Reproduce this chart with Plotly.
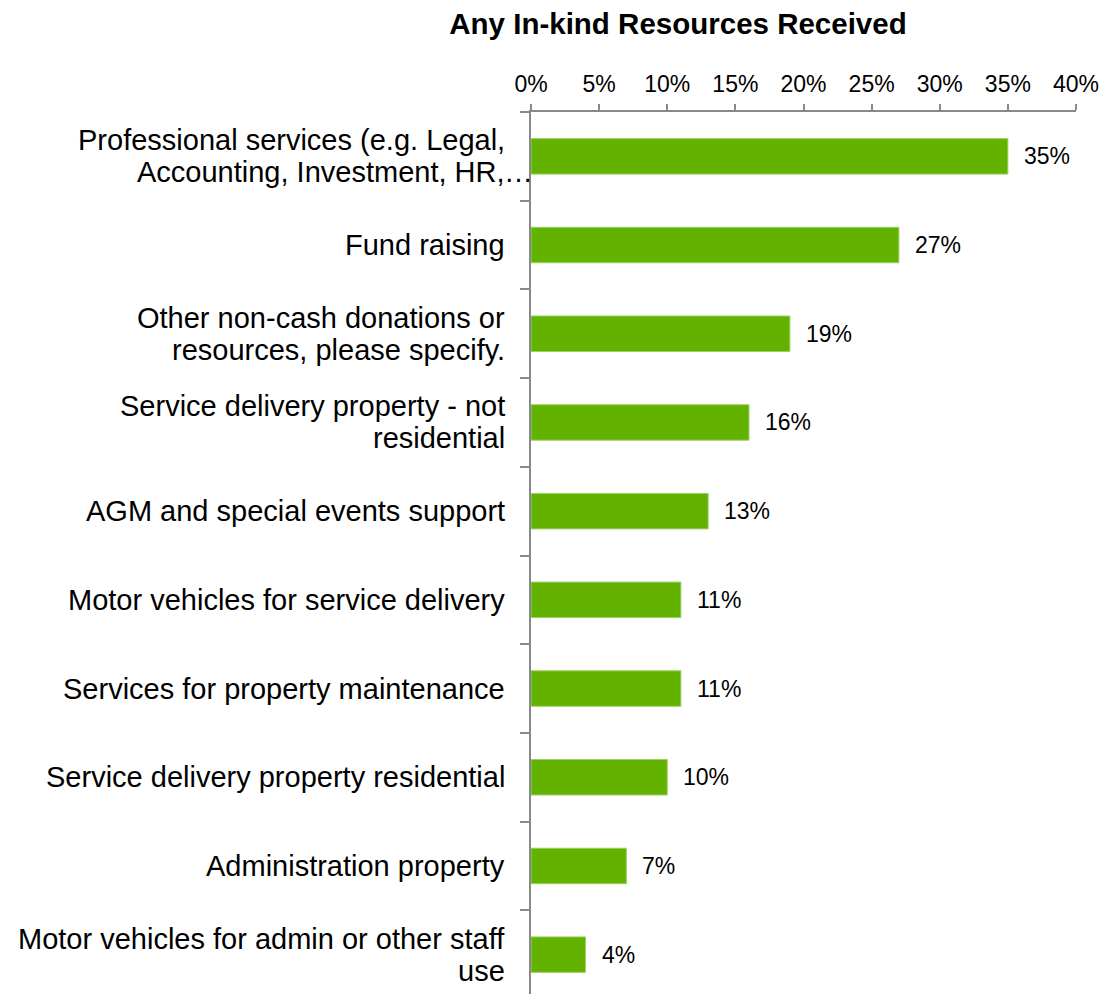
import plotly.graph_objects as go

# Share of organisations receiving each kind of in-kind resource
categories = [
    "Professional services (e.g. Legal,\nAccounting, Investment, HR,…",
    "Fund raising",
    "Other non-cash donations or\nresources, please specify.",
    "Service delivery property - not\nresidential",
    "AGM and special events support",
    "Motor vehicles for service delivery",
    "Services for property maintenance",
    "Service delivery property residential",
    "Administration property",
    "Motor vehicles for admin or other staff\nuse",
]
shares = [0.35, 0.27, 0.19, 0.16, 0.13, 0.11, 0.11, 0.10, 0.07, 0.04]
value_labels = ["35%", "27%", "19%", "16%", "13%", "11%", "11%", "10%", "7%", "4%"]
x_ticks = [0, 0.05, 0.10, 0.15, 0.20, 0.25, 0.30, 0.35, 0.40]
x_tick_labels = ["0%", "5%", "10%", "15%", "20%", "25%", "30%", "35%", "40%"]

FONT = "Liberation Sans, Arial, sans-serif"
AXIS_GREY = "#898989"
BAR_GREEN = "#63B200"
LABEL_SIZE = 29
LINE_GAP = 32          # distance between wrapped label lines, px
LABEL_PAD = 24         # gap between label text and the axis line, px

fig = go.Figure(
    go.Bar(
        x=shares,
        y=categories,
        orientation="h",
        marker=dict(color=BAR_GREEN, line=dict(color="#9BD163", width=1)),
        hoverinfo="skip",
    )
)

# value labels to the right of each bar
for cat, val, lab in zip(categories, shares, value_labels):
    fig.add_annotation(
        x=val, y=cat, xref="x", yref="y",
        text=lab, showarrow=False,
        xanchor="left", yanchor="middle", xshift=14,
        font=dict(family=FONT, size=23, color="#000000"),
    )

# category labels, one annotation per wrapped line so the line spacing stays tight
for cat in categories:
    lines = cat.split("\n")
    n = len(lines)
    for i, line in enumerate(lines):
        yshift = (n - 1) / 2 * LINE_GAP - i * LINE_GAP
        overflow = ""
        if line.endswith("…"):
            line, overflow = line[:-1], "…"
        fig.add_annotation(
            x=0, y=cat, xref="paper", yref="y",
            text=line, showarrow=False,
            xanchor="right", yanchor="middle",
            xshift=-LABEL_PAD, yshift=yshift,
            font=dict(family=FONT, size=LABEL_SIZE, color="#000000"),
        )
        if overflow:
            # truncated label: the ellipsis runs on past the text column
            fig.add_annotation(
                x=0, y=cat, xref="paper", yref="y",
                text=overflow, showarrow=False,
                xanchor="left", yanchor="middle",
                xshift=-LABEL_PAD - 5, yshift=yshift,
                font=dict(family=FONT, size=LABEL_SIZE, color="#000000"),
            )

fig.update_layout(
    width=1104,
    height=994,
    margin=dict(l=531, r=28, t=112, b=0, autoexpand=False),
    paper_bgcolor="white",
    plot_bgcolor="white",
    bargap=0.6,
    showlegend=False,
    title=dict(
        text="<b>Any In-kind Resources Received</b>",
        x=678 / 1104, xref="container", xanchor="center",
        y=1 - 24 / 994, yref="container", yanchor="middle",
        font=dict(family=FONT, size=29.5, color="#000000"),
    ),
    xaxis=dict(
        side="top",
        range=[0, 0.40],
        tickvals=x_ticks,
        ticktext=x_tick_labels,
        ticks="outside",
        ticklen=6,
        tickwidth=2,
        tickcolor=AXIS_GREY,
        showline=True,
        linecolor=AXIS_GREY,
        linewidth=2,
        showgrid=False,
        zeroline=False,
        ticklabelstandoff=3,
        tickfont=dict(family=FONT, size=23, color="#000000"),
        fixedrange=True,
    ),
    yaxis=dict(
        type="category",
        categoryorder="array",
        categoryarray=categories,
        range=[9.5 - 5 / 88.7, -0.5],
        tickson="boundaries",
        ticks="outside",
        ticklen=9,
        tickwidth=2,
        tickcolor=AXIS_GREY,
        showline=True,
        linecolor=AXIS_GREY,
        linewidth=2,
        showgrid=False,
        zeroline=False,
        showticklabels=False,
        fixedrange=True,
    ),
)

fig.write_html("out.html")
